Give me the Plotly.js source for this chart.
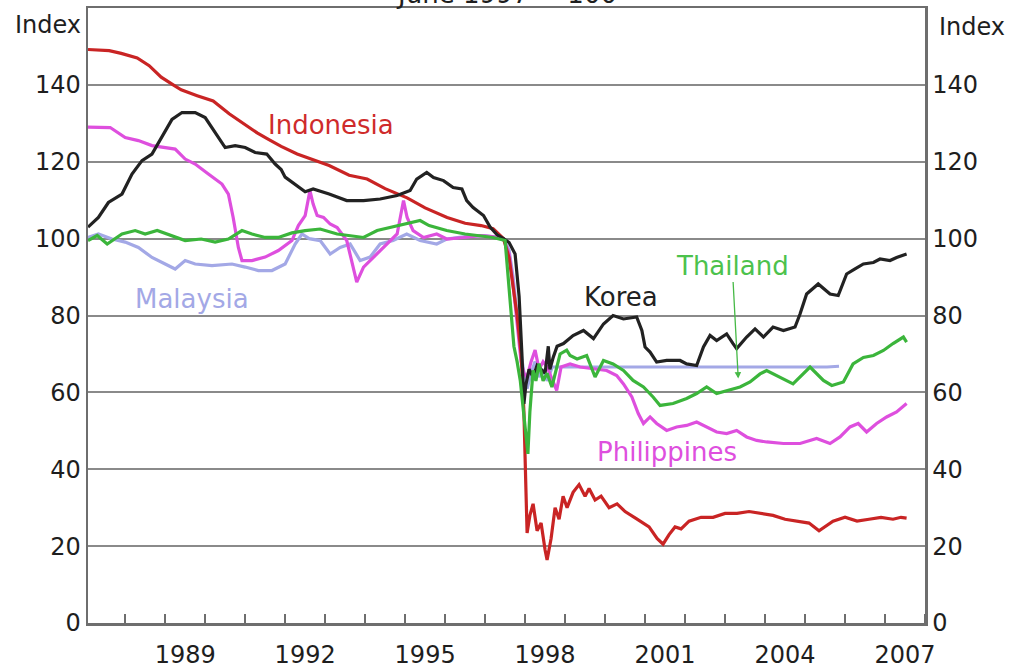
<!DOCTYPE html>
<html>
<head>
<meta charset="utf-8">
<script src="https://cdn.plot.ly/plotly-3.0.1.min.js"></script>
<style>html,body{margin:0;padding:0;background:#fff;}#chart{width:1015px;height:671px;}</style>
</head>
<body>
<div id="chart"></div>
<script>
// Tick labels
const yearTickPos = [1989.5, 1992.5, 1995.5, 1998.5, 2001.5, 2004.5, 2007.5];
const yearTickText = ['1989', '1992', '1995', '1998', '2001', '2004', '2007'];
const yTickVals = [0, 20, 40, 60, 80, 100, 120, 140];

// Indonesia
const indonesiaX = [1987.07,1987.3,1987.6,1987.9,1988.3,1988.6,1988.9,1989.2,1989.4,1989.8,1990.2,1990.6,1991.0,1991.3,1991.55,1991.9,1992.3,1992.7,1993.1,1993.6,1994.05,1994.5,1995.05,1995.5,1996.05,1996.5,1996.9,1997.2,1997.46,1997.6,1997.7,1997.8,1997.9,1997.97,1998.02,1998.05,1998.12,1998.2,1998.3,1998.4,1998.5,1998.55,1998.65,1998.75,1998.85,1998.95,1999.05,1999.2,1999.35,1999.5,1999.6,1999.75,1999.9,2000.1,2000.3,2000.5,2000.8,2001.1,2001.3,2001.45,2001.6,2001.75,2001.9,2002.1,2002.4,2002.7,2003.0,2003.3,2003.6,2003.9,2004.2,2004.5,2004.8,2005.1,2005.35,2005.5,2005.7,2006.0,2006.3,2006.6,2006.9,2007.2,2007.4,2007.54];
const indonesiaY = [149.2,149.0,148.9,148.2,147.0,145.0,142.0,140.0,138.7,137.2,135.8,132.5,129.5,127.5,126.0,124.0,122.0,120.5,119.0,116.5,115.5,113.0,110.6,108.0,105.5,104.0,103.4,102.6,100,95,88,80,70,55,35,23.4,28,31,24,26,19,16.4,22,30,27,33,30,34,36,33,35,32,33,30,31,29,27,25,22,20.5,23,25,24.5,26.5,27.5,27.5,28.5,28.5,29,28.5,28,27,26.5,26,24,25,26.5,27.5,26.5,27,27.5,27.0,27.5,27.3];

// Korea
const koreaX = [1987.07,1987.33,1987.58,1987.92,1988.17,1988.42,1988.67,1988.92,1989.17,1989.42,1989.75,1990.0,1990.33,1990.5,1990.75,1991.0,1991.25,1991.54,1991.75,1991.9,1992.0,1992.33,1992.5,1992.7,1993.1,1993.54,1993.96,1994.375,1994.8,1995.125,1995.29,1995.54,1995.71,1995.96,1996.2,1996.42,1996.54,1996.7,1996.96,1997.125,1997.3,1997.46,1997.6,1997.75,1997.85,1997.92,1997.97,1998.02,1998.1,1998.2,1998.3,1998.4,1998.5,1998.58,1998.62,1998.7,1998.8,1998.96,1999.2,1999.46,1999.71,1999.96,2000.2,2000.46,2000.79,2000.92,2001.0,2001.125,2001.29,2001.54,2001.875,2002.04,2002.29,2002.46,2002.625,2002.79,2003.04,2003.2,2003.29,2003.54,2003.75,2003.96,2004.2,2004.46,2004.75,2004.875,2005.04,2005.33,2005.625,2005.83,2006.04,2006.25,2006.46,2006.71,2006.875,2007.125,2007.29,2007.54];
const koreaY = [103,105.5,109.4,111.6,116.8,120.3,122,126.3,131,132.8,132.8,131.5,126.3,123.7,124.2,123.7,122.4,122,119.4,118,116,113.5,112.2,112.9,111.6,109.9,109.9,110.3,111.2,112.5,115.5,117.2,115.9,115.1,113.3,112.9,109.9,108.1,106,103,101,100,99,96,85,70,57,62,66,64,67,66,65,72,66,69,72,72.7,74.8,76.1,74,77.8,80,79.1,79.6,76.1,71.8,70.5,67.9,68.3,68.3,67.4,67,71.8,74.8,73.5,75.2,72.7,71.4,74.4,76.5,74.4,77,76.1,77,80.4,85.6,88.2,85.6,85.2,90.8,92.1,93.4,93.8,94.7,94.3,95.1,96];

// Philippines
const philippinesX = [1987.07,1987.625,1988.0,1988.33,1988.67,1989.0,1989.25,1989.5,1989.75,1990.08,1990.42,1990.58,1990.7,1990.83,1990.92,1991.17,1991.5,1991.83,1992.17,1992.33,1992.5,1992.62,1992.7,1992.8,1992.96,1993.125,1993.3,1993.54,1993.7,1993.79,1993.96,1994.125,1994.375,1994.625,1994.8,1994.96,1995.05,1995.2,1995.46,1995.79,1996.04,1996.46,1996.875,1997.2,1997.46,1997.6,1997.7,1997.8,1997.9,1997.97,1998.05,1998.15,1998.25,1998.35,1998.45,1998.55,1998.7,1998.79,1998.9,1999.125,1999.375,1999.7,2000.04,2000.29,2000.46,2000.67,2000.83,2000.96,2001.125,2001.29,2001.54,2001.79,2002.04,2002.29,2002.54,2002.79,2003.04,2003.29,2003.54,2003.79,2004.04,2004.46,2004.875,2005.29,2005.625,2005.875,2006.125,2006.33,2006.54,2006.79,2007.04,2007.29,2007.54];
const philippinesY = [129,128.9,126.3,125.5,124.2,123.7,123.3,120.7,119.4,116.8,114.2,111.6,105.5,97.7,94.3,94.3,95.2,96.9,99.5,103.4,106,112.5,109,106,105.5,103.8,102.9,99.5,93,88.7,92.6,94.3,96.9,99.5,101.2,109.9,105.5,102.1,100.3,101.2,99.9,100.3,100.8,100.5,100,96,88,78,68,65,64,68,71,66,68,66.6,63,60.5,66.6,67.4,66.6,66.1,65.7,64.4,62.2,58.8,54.5,51.9,53.6,51.9,50.1,51,51.4,52.3,51,49.7,49.3,50.1,48.4,47.5,47.1,46.7,46.7,48,46.7,48.4,51,51.9,49.7,51.9,53.6,54.9,57.1];

// Thailand
const thailandX = [1987.07,1987.3,1987.55,1987.92,1988.25,1988.5,1988.8,1989.17,1989.5,1989.9,1990.25,1990.58,1990.92,1991.17,1991.5,1991.83,1992.17,1992.5,1992.875,1993.3,1993.96,1994.3,1994.625,1994.96,1995.375,1995.6,1996.04,1996.5,1997.2,1997.5,1997.58,1997.65,1997.72,1997.8,1997.88,1997.95,1998.03,1998.07,1998.12,1998.2,1998.27,1998.35,1998.45,1998.55,1998.67,1998.875,1999.04,1999.125,1999.3,1999.54,1999.75,1999.96,2000.2,2000.46,2000.7,2000.96,2001.2,2001.375,2001.7,2002.04,2002.29,2002.54,2002.79,2003.04,2003.375,2003.625,2003.875,2004.04,2004.375,2004.7,2005.125,2005.46,2005.67,2005.96,2006.2,2006.46,2006.71,2006.96,2007.2,2007.46,2007.54];
const thailandY = [99.5,100.8,98.6,101.2,102.1,101.2,102.1,100.8,99.5,99.9,99.1,99.9,102.1,101.2,100.3,100.3,101.5,102.1,102.5,101.2,100.3,102.1,102.9,103.8,104.7,103.4,102.1,101.2,100.3,99.5,90,80,72,68,63,56,47,44,55,65.7,63,67.5,63,65,61.4,70,71,69.6,68.7,69.6,64,68.3,67.4,65.7,63.1,61.4,58.8,56.6,57.1,58.4,59.7,61.4,59.7,60.5,61.4,62.7,64.8,65.7,64,62.2,66.6,63.1,61.8,62.7,67.4,69.1,69.6,70.9,72.7,74.4,73.1];

// Malaysia
const malaysiaX = [1987.07,1987.33,1987.67,1988.0,1988.33,1988.67,1989.0,1989.25,1989.5,1989.75,1990.17,1990.67,1991.0,1991.33,1991.67,1992.0,1992.25,1992.42,1992.6,1992.875,1993.125,1993.375,1993.625,1993.875,1994.125,1994.375,1994.7,1995.04,1995.375,1995.79,1996.04,1996.5,1997.0,1997.46,1997.6,1997.7,1997.8,1997.9,1998.0,1998.05,1998.15,1998.25,1998.35,1998.45,1998.55,1998.68,2005.55,2005.85];
const malaysiaY = [100.3,101.2,99.9,99.1,97.7,95.1,93.4,92.1,94.3,93.4,93,93.4,92.6,91.7,91.7,93.4,98.6,101.2,100,99.5,96,97.7,98.6,94.3,95.2,98.6,99.5,101.2,99.5,98.6,99.9,100.5,100.8,100,97,90,80,70,63,61,65,68,64,66,63,66.6,66.6,66.8];

const W = 3.2;
const traces = [
  {x: malaysiaX, y: malaysiaY, name: 'Malaysia', mode: 'lines', line: {color: '#a3a8e6', width: W}},
  {x: philippinesX, y: philippinesY, name: 'Philippines', mode: 'lines', line: {color: '#de4fde', width: W}},
  {x: indonesiaX, y: indonesiaY, name: 'Indonesia', mode: 'lines', line: {color: '#c92424', width: W}},
  {x: koreaX, y: koreaY, name: 'Korea', mode: 'lines', line: {color: '#222222', width: W}},
  {x: thailandX, y: thailandY, name: 'Thailand', mode: 'lines', line: {color: '#3bb53b', width: W}},
  {x: [null], y: [null], yaxis: 'y2', showlegend: false, hoverinfo: 'skip', mode: 'lines'}
];

const FONT = 'DejaVu Sans, Verdana, sans-serif';
const axisColor = '#6e6e6e';

const layout = {
  width: 1015, height: 671,
  margin: {l: 88, r: 90, t: 8, b: 48},
  paper_bgcolor: '#ffffff', plot_bgcolor: '#ffffff',
  showlegend: false,
  font: {family: FONT, size: 24, color: '#1e1e1e'},
  xaxis: {
    range: [1987.07, 2008.0],
    tickmode: 'array', tickvals: yearTickPos, ticktext: yearTickText,
    ticks: '', showgrid: false, zeroline: false, ticklabelstandoff: 9,
    showline: true, linecolor: axisColor, linewidth: 2.5, mirror: true,
    tickfont: {family: FONT, size: 24, color: '#1e1e1e'},
    minor: {tick0: 1988, dtick: 1, ticks: 'inside', ticklen: 9, tickwidth: 2, tickcolor: axisColor, showgrid: false}
  },
  yaxis: {
    range: [0, 160],
    tickmode: 'array', tickvals: yTickVals,
    ticks: '', showgrid: true, gridcolor: '#8a8a8a', gridwidth: 2,
    zeroline: false, showline: true, linecolor: axisColor, linewidth: 2.5,
    tickfont: {family: FONT, size: 24, color: '#1e1e1e'}
  },
  yaxis2: {
    range: [0, 160], overlaying: 'y', side: 'right',
    tickmode: 'array', tickvals: yTickVals,
    ticks: '', showgrid: false, zeroline: false,
    showline: true, linecolor: axisColor, linewidth: 2.5,
    tickfont: {family: FONT, size: 24, color: '#1e1e1e'}
  },
  annotations: [
    {xref: 'paper', yref: 'paper', x: 0.5, y: 1, xanchor: 'center', yanchor: 'bottom', yshift: -3, showarrow: false,
     text: 'June 1997 = 100', font: {family: FONT, size: 26, color: '#1e1e1e'}},
    {xref: 'paper', yref: 'paper', x: 0, y: 0.972, xanchor: 'right', yanchor: 'middle', xshift: -5, showarrow: false,
     text: 'Index', font: {family: FONT, size: 24, color: '#1e1e1e'}},
    {xref: 'paper', yref: 'paper', x: 1, y: 0.969, xanchor: 'left', yanchor: 'middle', xshift: 12, showarrow: false,
     text: 'Index', font: {family: FONT, size: 24, color: '#1e1e1e'}},
    {x: 1993.15, y: 129.6, text: 'Indonesia', showarrow: false, font: {family: FONT, size: 26, color: '#cf2b2b'}},
    {x: 1989.675, y: 84.4, text: 'Malaysia', showarrow: false, font: {family: FONT, size: 26, color: '#a3a8e6'}},
    {x: 2000.4, y: 84.7, text: 'Korea', showarrow: false, font: {family: FONT, size: 26, color: '#222222'}},
    {x: 2001.55, y: 44.4, text: 'Philippines', showarrow: false, font: {family: FONT, size: 26, color: '#de4fde'}},
    {x: 2003.33, y: 63.6, ax: -6, ay: -113, text: 'Thailand', showarrow: true,
     arrowhead: 2, arrowsize: 1, arrowwidth: 1.3, arrowcolor: '#46b946',
     font: {family: FONT, size: 26, color: '#4cc24c'}}
  ]
};

Plotly.newPlot('chart', traces, layout, {displayModeBar: false, staticPlot: true});
</script>
</body>
</html>
